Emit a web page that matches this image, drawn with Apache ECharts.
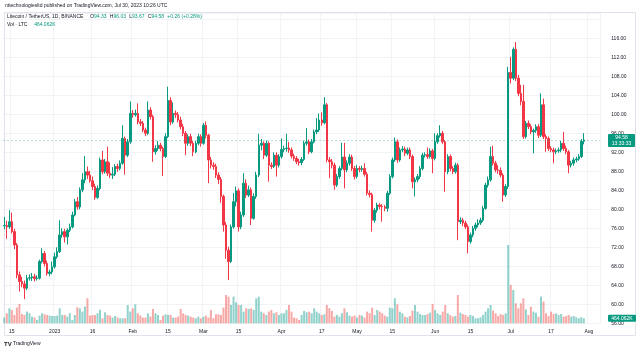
<!DOCTYPE html>
<html>
<head>
<meta charset="utf-8">
<script src="https://cdn.jsdelivr.net/npm/echarts@6/dist/echarts.min.js"></script>
<style>
html, body { margin: 0; padding: 0; background: #fff; }
#main { width: 640px; height: 351px; }
</style>
</head>
<body>
<div id="main"></div>
<script>
// LTC / USDT daily candles, rows are [open, close, low, high]
var dec22 = [
    [76.5, 76.6, 75.8, 78.4], [76.6, 76.3, 73.8, 77.6], [76.3, 77.4, 75.9, 79.8], [77.4, 75.3, 74.9, 79.3],
    [75.3, 72.5, 71.6, 75.9], [72.5, 66.2, 65.5, 72.9], [66.2, 64.8, 62.7, 66.9], [64.8, 64.3, 63.6, 65.8],
    [64.3, 63.4, 61.1, 65.0], [63.4, 65.5, 63.0, 66.2], [65.5, 65.6, 65.0, 66.3], [65.6, 65.8, 64.9, 66.6],
    [65.8, 65.4, 64.8, 66.4], [65.4, 65.5, 65.0, 66.1], [65.5, 69.0, 65.2, 69.4], [69.0, 70.7, 68.6, 71.8],
    [70.7, 68.6, 68.0, 71.2], [68.6, 66.5, 66.0, 69.2], [66.5, 66.8, 65.9, 67.3], [66.8, 67.9, 66.3, 69.0]
];
var jan23 = [
    [67.9, 70.0, 67.5, 70.9], [70.0, 71.1, 69.6, 72.0], [71.1, 74.6, 70.8, 77.7], [74.6, 75.3, 74.0, 76.0],
    [75.3, 74.2, 73.0, 75.9], [74.2, 75.6, 72.6, 76.0], [75.6, 76.3, 75.2, 77.0], [76.3, 78.8, 76.0, 79.5],
    [78.8, 81.6, 78.5, 82.2], [81.6, 80.5, 79.9, 82.6], [80.5, 84.1, 80.0, 84.6], [84.1, 86.2, 83.6, 87.6],
    [86.2, 87.9, 85.5, 91.2], [87.9, 87.2, 86.4, 89.0], [87.2, 86.0, 85.6, 88.1], [86.0, 84.8, 84.0, 86.9],
    [84.8, 82.5, 82.0, 85.4], [82.5, 84.4, 82.2, 85.0], [84.4, 90.4, 84.0, 90.9], [90.4, 87.9, 87.4, 92.3],
    [87.9, 90.0, 87.5, 90.6], [90.0, 87.6, 87.0, 93.2], [87.6, 87.2, 86.6, 89.9], [87.2, 87.4, 86.4, 88.9],
    [87.4, 89.0, 87.0, 89.5], [89.0, 88.6, 87.9, 89.6], [88.6, 89.7, 88.2, 90.3], [89.7, 94.9, 89.4, 97.7],
    [94.9, 91.4, 87.3, 95.3], [91.4, 94.2, 91.0, 94.8], [94.2, 100.2, 93.8, 102.7]
];
var feb23 = [
    [100.2, 99.9, 99.3, 100.9], [99.9, 100.2, 99.5, 101.0], [100.2, 98.4, 97.9, 102.3], [98.4, 98.1, 97.5, 99.0],
    [98.1, 96.7, 96.2, 98.6], [96.7, 96.0, 95.4, 97.2], [96.0, 100.9, 95.6, 102.7], [100.9, 99.5, 98.9, 101.5],
    [99.5, 92.1, 90.0, 99.9], [92.1, 92.8, 91.5, 93.5], [92.8, 93.5, 92.3, 94.4], [93.5, 92.8, 92.2, 94.0],
    [92.8, 91.1, 87.0, 93.2], [91.1, 95.3, 90.8, 96.0], [95.3, 102.9, 95.0, 105.8], [102.9, 98.4, 97.7, 103.6],
    [98.4, 100.2, 98.0, 102.5], [100.2, 99.9, 99.2, 100.8], [99.9, 98.8, 98.3, 100.5], [98.8, 97.4, 96.8, 99.5],
    [97.4, 96.0, 95.4, 98.0], [96.0, 93.9, 91.4, 96.5], [93.9, 95.3, 93.4, 95.8], [95.3, 93.9, 93.3, 95.9],
    [93.9, 92.1, 91.2, 94.4], [92.1, 93.9, 91.8, 94.4], [93.9, 95.3, 93.5, 95.9], [95.3, 93.9, 93.2, 95.8]
];
var mar23 = [
    [93.9, 97.7, 93.6, 98.2], [97.7, 95.6, 94.9, 98.5], [95.6, 90.4, 85.5, 95.9], [90.4, 89.3, 88.6, 91.0],
    [89.3, 89.0, 88.3, 89.9], [89.0, 87.2, 86.6, 89.6], [87.2, 86.3, 85.3, 87.8], [86.3, 82.7, 81.4, 86.8],
    [82.7, 76.7, 75.3, 83.1], [76.7, 71.4, 69.6, 77.3], [71.4, 69.0, 65.1, 72.1], [69.0, 76.3, 68.7, 76.8],
    [76.3, 81.6, 75.9, 83.4], [81.6, 83.9, 80.6, 84.8], [83.9, 76.3, 75.3, 84.4], [76.3, 78.8, 75.8, 79.5],
    [78.8, 85.5, 78.4, 87.6], [85.5, 83.0, 82.4, 86.3], [83.0, 84.1, 82.6, 85.0], [84.1, 78.1, 76.7, 84.6],
    [78.1, 82.7, 77.8, 83.4], [82.7, 87.2, 82.2, 87.9], [87.2, 93.5, 86.8, 95.9], [93.5, 93.9, 92.4, 94.8],
    [93.9, 91.4, 90.6, 94.3], [91.4, 93.9, 91.0, 94.5], [93.9, 89.3, 85.8, 94.3], [89.3, 89.0, 88.5, 89.9],
    [89.0, 91.4, 88.7, 92.0], [91.4, 89.3, 86.9, 92.0], [89.3, 91.1, 88.8, 91.6]
];
var apr23 = [
    [91.1, 92.6, 90.7, 94.9], [92.6, 92.8, 92.0, 93.4], [92.8, 92.9, 92.1, 95.9], [92.9, 92.5, 91.9, 94.2],
    [92.5, 91.2, 90.7, 93.0], [91.2, 90.7, 90.2, 91.7], [90.7, 90.0, 89.5, 91.2], [90.0, 89.8, 89.2, 90.6],
    [89.8, 90.5, 89.3, 91.0], [90.5, 93.9, 90.2, 94.4], [93.9, 94.2, 93.4, 97.1], [94.2, 92.1, 91.6, 94.7],
    [92.1, 94.2, 91.8, 94.8], [94.2, 96.3, 93.9, 96.8], [96.3, 96.7, 95.8, 99.2], [96.7, 98.8, 96.3, 100.2],
    [98.8, 98.2, 97.6, 100.4], [98.2, 102.0, 97.9, 103.6], [102.0, 90.4, 89.9, 102.4], [90.4, 90.0, 86.6, 91.0],
    [90.0, 89.3, 88.6, 90.6], [89.3, 85.1, 84.1, 89.8], [85.1, 86.9, 84.7, 87.4], [86.9, 88.6, 86.4, 89.1],
    [88.6, 91.0, 88.2, 94.0], [91.0, 88.3, 84.4, 94.0], [88.3, 89.7, 87.8, 90.3], [89.7, 91.0, 89.2, 91.6],
    [91.0, 88.6, 88.1, 91.5], [88.6, 86.9, 86.3, 89.1]
];
var may23 = [
    [86.9, 88.6, 86.5, 89.3], [88.6, 88.4, 87.8, 89.1], [88.4, 88.6, 87.9, 89.2], [88.6, 87.4, 86.9, 89.7],
    [87.4, 83.4, 82.9, 87.9], [83.4, 83.1, 82.5, 84.0], [83.1, 77.7, 75.3, 83.5], [77.7, 79.8, 77.2, 80.3],
    [79.8, 80.9, 79.3, 81.4], [80.9, 80.6, 80.0, 81.3], [80.6, 80.5, 77.4, 81.1], [80.5, 80.2, 79.6, 80.9],
    [80.2, 83.4, 79.5, 83.9], [83.4, 86.9, 83.0, 87.4], [86.9, 90.4, 86.5, 90.9], [90.4, 94.2, 90.0, 95.1],
    [94.2, 90.4, 89.8, 94.7], [90.4, 92.5, 90.0, 93.0], [92.5, 92.7, 92.0, 93.3], [92.7, 91.8, 91.2, 93.2],
    [91.8, 92.5, 91.4, 93.0], [92.5, 91.1, 90.6, 93.0], [91.1, 85.8, 84.4, 91.5], [85.8, 86.2, 82.7, 86.7],
    [86.2, 86.9, 85.7, 87.4], [86.9, 88.6, 86.4, 89.1], [88.6, 91.4, 88.2, 91.9], [91.4, 91.5, 90.9, 92.0],
    [91.5, 91.1, 90.6, 93.0], [91.1, 92.3, 90.7, 92.8], [92.3, 90.7, 87.6, 92.7]
];
var jun23 = [
    [90.7, 94.2, 90.3, 96.0], [94.2, 95.5, 93.8, 96.0], [95.5, 96.0, 95.1, 97.7], [96.0, 94.2, 93.7, 96.5],
    [94.2, 87.9, 83.7, 94.6], [87.9, 91.1, 87.4, 91.6], [91.1, 88.6, 88.0, 91.5], [88.6, 87.9, 87.4, 89.1],
    [87.9, 89.3, 87.5, 89.8], [89.3, 77.4, 73.5, 89.7], [77.4, 77.7, 76.9, 78.3], [77.7, 77.1, 76.5, 78.2],
    [77.1, 76.3, 75.8, 77.6], [76.3, 73.2, 70.7, 76.8], [73.2, 74.6, 72.8, 75.1], [74.6, 76.0, 74.1, 76.5],
    [76.0, 76.7, 75.5, 77.2], [76.7, 77.1, 76.2, 77.9], [77.1, 77.7, 76.7, 78.2], [77.7, 80.2, 77.3, 80.7],
    [80.2, 85.1, 79.9, 85.6], [85.1, 86.2, 84.6, 86.9], [86.2, 91.1, 85.8, 93.2], [91.1, 89.7, 89.2, 93.4],
    [89.7, 88.3, 87.8, 90.2], [88.3, 88.2, 87.5, 89.3], [88.2, 87.2, 86.7, 88.8], [87.2, 83.0, 81.6, 87.6],
    [83.0, 84.8, 82.6, 85.3], [84.8, 108.8, 84.3, 110.0]
];
var jul23 = [
    [108.8, 107.6, 106.5, 112.1], [107.6, 113.7, 107.2, 114.1], [113.7, 107.6, 107.0, 115.2], [107.6, 104.4, 103.8, 108.3],
    [104.4, 102.7, 101.9, 106.2], [102.7, 95.3, 94.8, 106.2], [95.3, 98.1, 94.9, 98.6], [98.1, 97.4, 96.9, 98.7],
    [97.4, 96.3, 95.8, 97.9], [96.3, 96.6, 91.8, 97.0], [96.6, 97.4, 96.1, 97.9], [97.4, 95.6, 95.0, 97.9],
    [95.6, 102.0, 95.2, 104.4], [102.0, 95.3, 94.8, 103.3], [95.3, 94.9, 92.1, 95.8], [94.9, 92.8, 92.3, 95.3],
    [92.8, 92.5, 92.0, 93.3], [92.5, 92.1, 89.7, 93.0], [92.1, 92.3, 91.6, 92.8], [92.3, 92.5, 91.9, 93.0],
    [92.5, 93.9, 92.0, 94.4], [93.9, 92.8, 92.3, 96.3], [92.8, 92.1, 91.6, 93.4], [92.1, 89.3, 87.6, 92.5],
    [89.3, 89.7, 88.8, 90.2], [89.7, 90.4, 89.2, 90.9], [90.4, 90.6, 89.9, 91.1], [90.6, 91.1, 90.2, 91.6],
    [91.1, 94.33, 90.8, 94.8], [94.33, 94.58, 93.67, 96.03]
];

// volume, thousand LTC per day
var volDec22 = [530, 930, 1395, 1240, 775, 1460, 1795, 865, 775, 1090, 930, 620, 530, 310, 715, 930, 840, 775, 715, 680];
var volJan23 = [680, 715, 1395, 775, 775, 620, 930, 310, 775, 1490, 1395, 1090, 1550, 2325, 715, 775, 775, 930, 1240, 465,
    1020, 775, 715, 530, 680, 530, 465, 465, 465, 1700, 1090];
var volFeb23 = [1395, 1765, 930, 715, 530, 530, 930, 620, 1330, 930, 775, 310, 715, 840, 775, 775, 530, 530, 620, 1330,
    930, 775, 715, 620, 530, 465, 620, 465];
var volMar23 = [620, 715, 530, 1240, 465, 840, 840, 775, 1460, 2635, 2480, 1705, 2480, 1950, 1705, 1705, 1085, 1395, 1335, 1395,
    1240, 2325, 2480, 1085, 930, 775, 1085, 1240, 930, 1025, 775];
var volApr23 = [930, 930, 1240, 1705, 1085, 530, 465, 310, 775, 1150, 1025, 1085, 930, 1395, 1085, 930, 775, 840, 1705, 1395,
    1150, 620, 775, 620, 930, 1395, 1025, 715, 620, 715];
var volMay23 = [530, 775, 715, 530, 1085, 930, 1460, 775, 1240, 1085, 930, 715, 620, 1460, 1395, 2325, 1765, 1085, 930,
    620, 560, 680, 1180, 1705, 1085, 865, 775, 775, 865, 990, 1800];
var volJun23 = [1240, 930, 775, 1085, 1705, 930, 775, 620, 680, 2635, 990, 865, 775, 620, 775, 680, 465, 465, 560, 775,
    1085, 1395, 1705, 1180, 930, 680, 865, 775, 930, 7285];
var volJul23 = [3565, 3100, 1860, 1395, 1860, 2325, 1300, 775, 1550, 1085, 990, 620, 2480, 2015, 930, 680, 1085, 865, 930, 775,
    865, 620, 680, 775, 620, 680, 560, 465, 560, 464.062];

// time axis labels
var tickDates = ['2022-12-15', '2023-01-01', '2023-01-16', '2023-02-01', '2023-02-15', '2023-03-01', '2023-03-15', '2023-04-01',
    '2023-04-17', '2023-05-01', '2023-05-15', '2023-06-01', '2023-06-15', '2023-07-01', '2023-07-17', '2023-08-01'];
var tickLabels = ['15', '2023', '16', 'Feb', '15', 'Mar', '15', 'Apr', '17', 'May', '15', 'Jun', '15', 'Jul', '17', 'Aug'];

var firstDay = Date.UTC(2022, 11, 12);
var emptyDaysRight = 6;
var lastClose = 94.58;
var lastVolume = 464.062;

var UP = '#089981', DOWN = '#f23645';
var FONT = 'Liberation Sans';

var candles = [].concat(dec22, jan23, feb23, mar23, apr23, may23, jun23, jul23);
var volumes = [].concat(volDec22, volJan23, volFeb23, volMar23, volApr23, volMay23, volJun23, volJul23);

var dates = [];
for (var i = 0; i < candles.length + emptyDaysRight; i++) {
    dates.push(new Date(firstDay + i * 86400000).toISOString().slice(0, 10));
}

var volumeData = volumes.map(function (v, i) {
    var down = candles[i][1] < candles[i][0];
    return {
        value: v,
        itemStyle: { color: down ? 'rgba(239,83,80,0.5)' : 'rgba(38,166,154,0.5)' }
    };
});

function isTick(idx, val) {
    return tickDates.indexOf(val) >= 0;
}

var chart = echarts.init(document.getElementById('main'), null, { renderer: 'canvas' });

var option = {
    animation: false,
    backgroundColor: '#ffffff',
    textStyle: { fontFamily: FONT },
    grid: { left: 3, right: 39.8, top: 13, bottom: 27.7 },
    xAxis: {
        type: 'category',
        data: dates,
        boundaryGap: true,
        axisLine: { show: false },
        axisTick: { show: false },
        axisLabel: {
            interval: isTick,
            formatter: function (val) { return tickLabels[tickDates.indexOf(val)]; },
            fontSize: 5,
            color: '#131722',
            margin: 6
        },
        splitLine: { show: true, interval: isTick, lineStyle: { color: '#f2f3f6', width: 1 } }
    },
    yAxis: [{
        type: 'value',
        position: 'right',
        min: 56,
        max: 121.33,
        interval: 4,
        axisLine: { show: false },
        axisTick: { show: false },
        axisLabel: {
            fontSize: 5,
            color: '#131722',
            margin: 11,
            formatter: function (v) {
                if (v % 4 !== 0 || v > 116) return '';
                return v.toFixed(2);
            }
        },
        splitLine: { lineStyle: { color: '#f2f3f6', width: 1 } }
    }, {
        type: 'value',
        min: 0,
        max: 28860,
        show: false,
        splitLine: { show: false }
    }],
    series: [{
        name: 'Vol',
        type: 'bar',
        yAxisIndex: 1,
        data: volumeData,
        barWidth: 2,
        z: 1
    }, {
        name: 'LTCUSDT',
        type: 'candlestick',
        data: candles,
        barWidth: 2,
        z: 3,
        itemStyle: {
            color: UP,
            color0: DOWN,
            borderColor: UP,
            borderColor0: DOWN,
            borderWidth: 1
        },
        markLine: {
            silent: true,
            symbol: 'none',
            label: { show: false },
            lineStyle: { color: UP, type: [2, 2], width: 1, opacity: 0.3 },
            data: [{ yAxis: lastClose }]
        }
    }]
};
chart.setOption(option);

// tags on the price scale + header texts
var priceY = chart.convertToPixel({ yAxisIndex: 0 }, lastClose);
var volY = chart.convertToPixel({ yAxisIndex: 1 }, lastVolume);

chart.setOption({
    graphic: [
        { type: 'rect', shape: { x: 4.5, y: 12.5, width: 631, height: 323 }, style: { fill: 'none', stroke: '#e0e3eb', lineWidth: 1 }, silent: true },
        { type: 'text', x: 5, y: 6, style: { text: 'nttechnologiesltd published on TradingView.com, Jul 30, 2023 10:26 UTC', fontSize: 5, fontFamily: FONT, fill: '#131722', verticalAlign: 'middle' } },
        { type: 'text', x: 7, y: 17, style: {
            text: '{t|Litecoin / TetherUS, 1D, BINANCE}  {k|O}{v|94.33} {k|H}{v|96.03} {k|L}{v|93.67} {k|C}{v|94.58} {v|+0.26 (+0.28%)}',
            verticalAlign: 'middle',
            rich: {
                t: { fontSize: 5, fontFamily: FONT, fill: '#131722' },
                k: { fontSize: 5, fontFamily: FONT, fill: '#131722' },
                v: { fontSize: 5, fontFamily: FONT, fill: UP }
            }
        } },
        { type: 'text', x: 7, y: 25, style: {
            text: '{t|Vol · LTC}  {v|464.062K}',
            verticalAlign: 'middle',
            rich: {
                t: { fontSize: 5, fontFamily: FONT, fill: '#131722' },
                v: { fontSize: 5, fontFamily: FONT, fill: UP }
            }
        } },
        { type: 'rect', shape: { x: 608, y: priceY - 6, width: 27, height: 13, r: 1 }, style: { fill: UP }, z: 10 },
        { type: 'text', x: 621.5, y: priceY - 2.5, z: 11, style: { text: '94.58', fontSize: 5, fontFamily: FONT, fill: '#fff', align: 'center', verticalAlign: 'middle' } },
        { type: 'text', x: 621.5, y: priceY + 3.5, z: 11, style: { text: '13:33:33', fontSize: 5, fontFamily: FONT, fill: '#fff', align: 'center', verticalAlign: 'middle' } },
        { type: 'rect', shape: { x: 608, y: volY - 3.5, width: 28, height: 7, r: 1 }, style: { fill: UP }, z: 10 },
        { type: 'text', x: 622, y: volY, z: 11, style: { text: '464.062K', fontSize: 5, fontFamily: FONT, fill: '#fff', align: 'center', verticalAlign: 'middle' } },
        { type: 'text', x: 4, y: 344, style: { text: 'TV', fontSize: 6, fontWeight: 'bold', fontFamily: FONT, fill: '#131722', verticalAlign: 'middle' } },
        { type: 'text', x: 13, y: 344, style: { text: 'TradingView', fontSize: 5, fontFamily: FONT, fill: '#131722', verticalAlign: 'middle' } }
    ]
});
</script>
</body>
</html>
